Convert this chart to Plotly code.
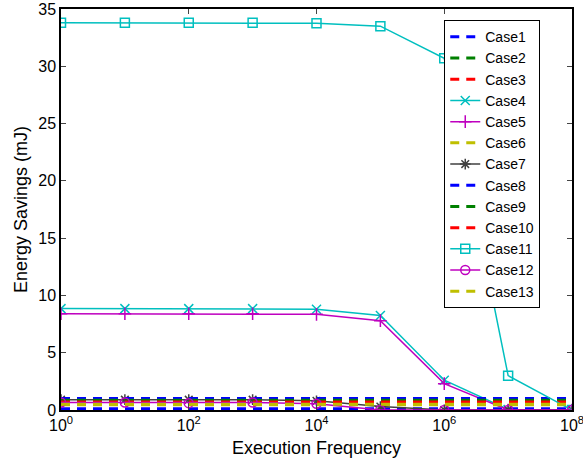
import plotly.graph_objects as go

freq = [1, 10, 100, 1000, 10000, 100000, 1000000, 10000000, 100000000]

case1 = [0.1] * 9
case2 = [0.8] * 9
case3 = [0.6] * 9
case4 = [8.85, 8.85, 8.85, 8.85, 8.8, 8.25, 2.6, 0.05, 0.0]
case5 = [8.4, 8.4, 8.4, 8.4, 8.35, 7.8, 2.3, 0.0, 0.0]
case6 = [0.45] * 9
case7 = [0.9, 0.9, 0.9, 0.9, 0.8, 0.3, 0.0, 0.0, 0.0]
case8 = [1.0] * 9
case9 = [0.85] * 9
case10 = [0.7] * 9
case11 = [33.8, 33.8, 33.8, 33.8, 33.75, 33.5, 30.7, 3.0, 0.0]
case12 = [0.65, 0.65, 0.6, 0.65, 0.55, 0.0, 0.0, 0.0, 0.0]
case13 = [0.5] * 9

names = [f"Case{i}" for i in range(1, 14)]
values = [case1, case2, case3, case4, case5, case6, case7, case8, case9, case10, case11, case12, case13]

BLUE = "#0000FF"
GREEN = "#008000"
RED = "#FF0000"
CYAN = "#00BFBF"
MAG = "#BF00BF"
YEL = "#BFBF00"
GRAY = "#404040"

styles = [
    (BLUE, "dash", None),
    (GREEN, "dash", None),
    (RED, "dash", None),
    (CYAN, "solid", "x-thin-open"),
    (MAG, "solid", "cross-thin-open"),
    (YEL, "dash", None),
    (GRAY, "solid", "asterisk-open"),
    (BLUE, "dash", None),
    (GREEN, "dash", None),
    (RED, "dash", None),
    (CYAN, "solid", "square-open"),
    (MAG, "solid", "circle-open"),
    (YEL, "dash", None),
]

fig = go.Figure()
for name, vals, (color, dash, sym) in zip(names, values, styles):
    d = "9px,7px" if dash == "dash" else "solid"
    if sym:
        fig.add_trace(go.Scatter(
            x=freq, y=vals, name=name, mode="lines+markers",
            line=dict(color=color, width=1.5, dash=d),
            marker=dict(symbol=sym, size=9, color=color, line=dict(color=color, width=1.5)),
        ))
    else:
        fig.add_trace(go.Scatter(
            x=freq, y=vals, name=name, mode="lines",
            line=dict(color=color, width=3, dash=d),
        ))

tickvals = [1, 100, 10000, 1000000, 100000000]
ticktext = ["10<sup>0</sup>", "10<sup>2</sup>", "10<sup>4</sup>", "10<sup>6</sup>", "10<sup>8</sup>"]

fig.update_layout(
    width=583, height=464,
    margin=dict(l=61, r=11, t=9, b=54),
    paper_bgcolor="white", plot_bgcolor="white",
    font=dict(family="Liberation Sans, Arial, sans-serif", size=16, color="black"),
    showlegend=True,
    hovermode=False,
    legend=dict(
        x=0.75, y=0.972, xanchor="left", yanchor="top",
        bgcolor="white", bordercolor="black", borderwidth=1,
        font=dict(size=14), tracegroupgap=0,
    ),
    xaxis=dict(
        type="log", range=[0, 8], automargin=False,
        tickvals=tickvals, ticktext=ticktext, ticklabeloverflow="allow",
        ticks="inside", ticklen=5, tickcolor="#444444",
        showline=True, linecolor="black", linewidth=1.5, mirror="ticks",
        showgrid=False, zeroline=False,
        title=dict(text="Execution Frequency", font=dict(size=18), standoff=8),
    ),
    yaxis=dict(
        range=[0, 35], dtick=5, automargin=False,
        ticks="inside", ticklen=5, tickcolor="#444444",
        showline=True, linecolor="black", linewidth=1.5, mirror="ticks",
        showgrid=False, zeroline=False,
        title=dict(text="Energy Savings (mJ)", font=dict(size=18), standoff=6),
    ),
)

fig.write_html(
    "out.html",
    config={"displayModeBar": False},
    post_script="document.body.style.margin='0';document.body.style.overflow='hidden';",
)
